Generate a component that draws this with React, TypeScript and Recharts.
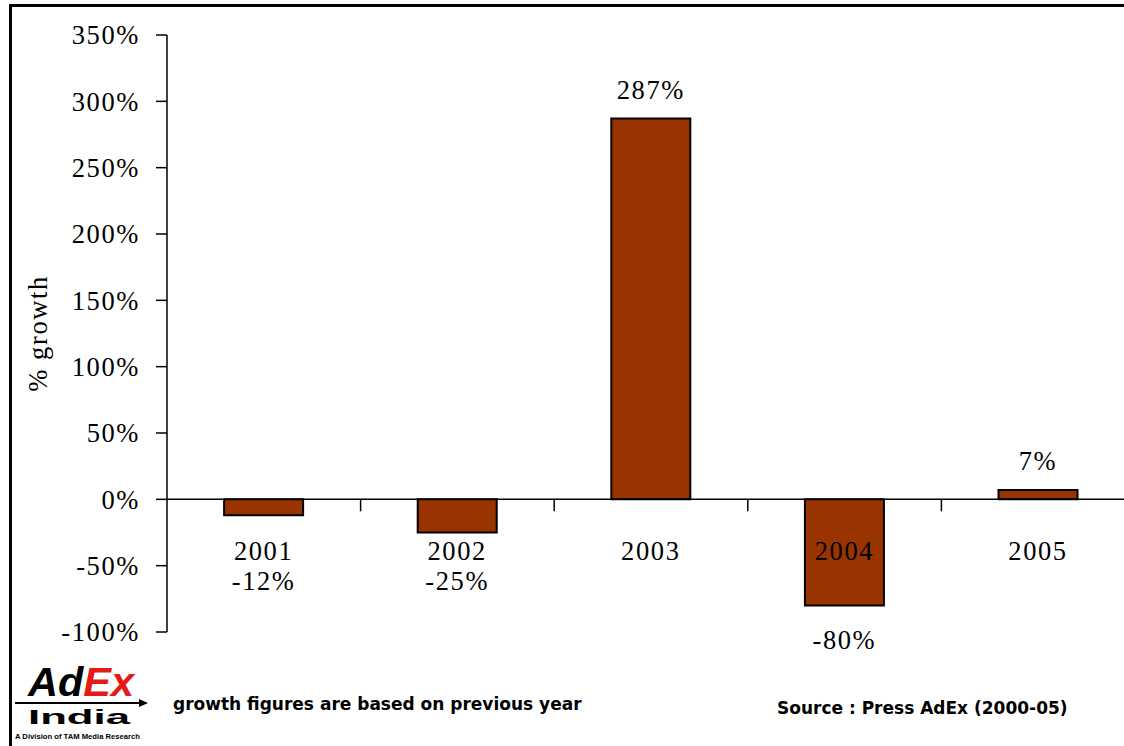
import React from 'react';
import { BarChart, Bar, XAxis, YAxis, ReferenceLine, LabelList } from 'recharts';

const years = ['2001', '2002', '2003', '2004', '2005'];
const growth = [-12, -25, 287, -80, 7];
const yTicks = [-100, -50, 0, 50, 100, 150, 200, 250, 300, 350];
const footnote = 'growth figures are based on previous year';
const sourceText = 'Source : Press AdEx (2000-05)';
const yTitle = '% growth';

const data = years.map((year, i) => ({ year, growth: growth[i] }));

const SERIF = '"Liberation Serif", "Times New Roman", serif';
const SANS = '"DejaVu Sans", Verdana, sans-serif';
const LOGO = '"Liberation Sans", Arial, sans-serif';

const pct = (v: number) => `${v}%`;

const textStyle = { fontFamily: SERIF, fontSize: 26.5, letterSpacing: 1.6, fill: '#000' };

function barBounds(p: any) {
  const y = Number(p.y);
  const h = Number(p.height);
  return { top: Math.min(y, y + h), bottom: Math.max(y, y + h) };
}

const CategoryLabel = (p: any) => {
  const row = data.find((d) => d.year === p.value);
  const v = row ? row.growth : 0;
  const { top, bottom } = barBounds(p);
  const zeroY = v >= 0 ? bottom : top;
  return (
    <text x={Number(p.x) + Number(p.width) / 2} y={zeroY + 52} textAnchor="middle" dominantBaseline="central" style={textStyle}>
      {p.value}
    </text>
  );
};

const ValueLabel = (p: any) => {
  const v = Number(p.value);
  const { top, bottom } = barBounds(p);
  const cx = Number(p.x) + Number(p.width) / 2;
  let y;
  if (v >= 0) {
    y = top - 29;
  } else {
    const zeroY = top;
    y = Math.max(bottom + 35, zeroY + 82);
  }
  return (
    <text x={cx} y={y} textAnchor="middle" dominantBaseline="central" style={textStyle}>
      {pct(v)}
    </text>
  );
};

const ZeroAxis = (p: any) => {
  const { x1, x2, y1 } = p;
  const n = years.length;
  const step = (x2 - x1) / n;
  const ticks = [];
  for (let i = 1; i <= n; i++) {
    const x = x1 + i * step;
    ticks.push(<line key={i} x1={x} x2={x} y1={y1} y2={y1 + 12} stroke="#000" strokeWidth={1.5} />);
  }
  return (
    <g>
      <line x1={x1} x2={x2} y1={y1} y2={y1} stroke="#000" strokeWidth={1.5} />
      {ticks}
    </g>
  );
};

const YTitle = (p: any) => {
  const vb = p.viewBox || {};
  const cx = Number(vb.x) + 38;
  const cy = Number(vb.y) + Number(vb.height) / 2;
  return (
    <text x={cx} y={cy} transform={`rotate(-90 ${cx} ${cy})`} textAnchor="middle" dominantBaseline="central" style={textStyle}>
      {yTitle}
    </text>
  );
};

export default function App() {
  return (
    <div style={{ position: 'absolute', left: 0, top: 0, width: 1124, height: 746, overflow: 'hidden', background: '#fff' }}>
      <div style={{ position: 'absolute', left: 9, top: 4, right: -10, bottom: -10, borderLeft: '3px solid #000', borderTop: '3px solid #000' }} />
      <div style={{ position: 'absolute', left: 0, top: 0 }}>
        <BarChart
          width={1135}
          height={746}
          data={data}
          margin={{ top: 35, right: 0, left: 0, bottom: 114 }}
          barCategoryGap="29.5%"
        >
          <XAxis dataKey="year" hide />
          <YAxis
            width={167}
            domain={[-100, 350]}
            ticks={yTicks}
            interval={0}
            allowDataOverflow
            tickFormatter={pct}
            axisLine={{ stroke: '#000', strokeWidth: 1.5 }}
            tickLine={{ stroke: '#000', strokeWidth: 1.5 }}
            tickSize={11}
            tickMargin={16}
            tick={{ ...textStyle }}
            label={<YTitle />}
          />
          <Bar dataKey="growth" fill="#993300" stroke="#000" strokeWidth={2} isAnimationActive={false}>
            <LabelList dataKey="year" content={<CategoryLabel />} />
            <LabelList dataKey="growth" content={<ValueLabel />} />
          </Bar>
          <ReferenceLine y={0} shape={<ZeroAxis />} />
        </BarChart>
      </div>
      <svg width={1124} height={746} style={{ position: 'absolute', left: 0, top: 0, pointerEvents: 'none' }}>
        <g>
          <text x={28} y={696} textLength={106} lengthAdjust="spacingAndGlyphs" style={{ fontFamily: LOGO, fontSize: 41, fontWeight: 900, fontStyle: 'italic', fill: '#000' }}>
            Ad<tspan fill="#e41b17">Ex</tspan>
          </text>
          <line x1={15} x2={140} y1={703} y2={703} stroke="#000" strokeWidth={2} />
          <polygon points="148,703 139,699 139,707" fill="#000" />
          <text x={28} y={724} textLength={102} lengthAdjust="spacingAndGlyphs" style={{ fontFamily: LOGO, fontSize: 21, fontWeight: 900, fill: '#000' }}>
            India
          </text>
          <text x={15} y={739} textLength={125} lengthAdjust="spacingAndGlyphs" style={{ fontFamily: LOGO, fontSize: 7.5, fontWeight: 700, fill: '#000' }}>
            A Division of TAM Media Research
          </text>
        </g>
        <text x={173} y={710} style={{ fontFamily: SANS, fontSize: 17, fontWeight: 700, fill: '#000' }}>
          {footnote}
        </text>
        <text x={777} y={714} style={{ fontFamily: SANS, fontSize: 17, fontWeight: 700, fill: '#000' }}>
          {sourceText}
        </text>
      </svg>
    </div>
  );
}
